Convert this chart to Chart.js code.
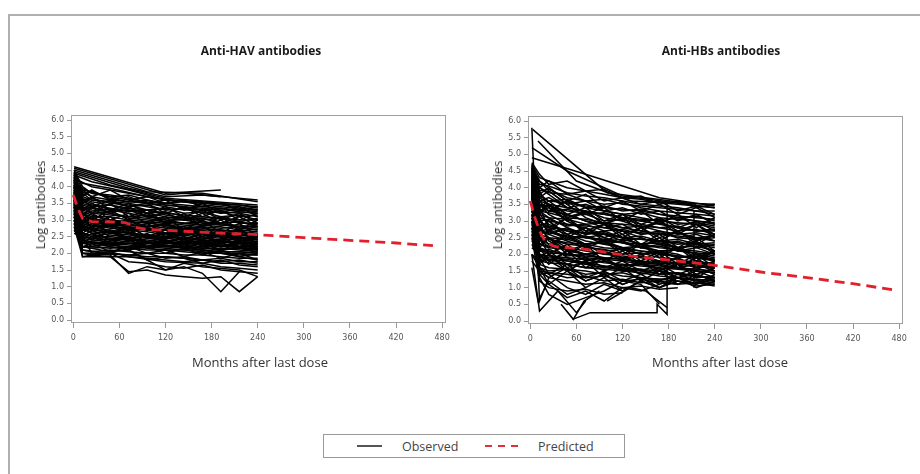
<!DOCTYPE html>
<html>
<head>
<meta charset="utf-8">
<script src="https://cdn.jsdelivr.net/npm/chart.js@4.4.1/dist/chart.umd.min.js"></script>
<style>
  html, body { margin: 0; padding: 0; background: #fff; }
  body { width: 920px; height: 474px; position: relative; overflow: hidden; font-family: 'Open Sans', sans-serif; }
  .frame-top { position: absolute; left: 8px; top: 14px; width: 912px; height: 2px; background: #b0b0b0; }
  .frame-left { position: absolute; left: 8px; top: 14px; width: 2px; height: 460px; background: #b0b0b0; }
  .panel { position: absolute; top: 0; width: 460px; height: 380px; }
  .txt { position: absolute; transform: translate(-50%, -50%); white-space: nowrap; color: #333; }
  .ptitle { font-weight: 700; font-size: 12px; color: #1a1a1a; }
  .atitle { font-size: 13px; color: #333; }
  .ytitle { transform: translate(-50%, -50%) rotate(-90deg); }
  .legend { position: absolute; left: 323px; top: 434px; width: 302px; height: 24px; box-sizing: border-box; border: 1px solid #999; }
  .legend .solid { position: absolute; left: 33px; top: 10px; width: 25px; height: 2px; background: #555; }
  .legend .dash { position: absolute; left: 161px; top: 10px; width: 34px; height: 2px;
    background: repeating-linear-gradient(90deg, #e0303a 0 7px, transparent 7px 13px); }
  .legend span.lab { position: absolute; top: 3px; font-size: 12.5px; color: #444; }
</style>
</head>
<body>
<div class="frame-top"></div>
<div class="frame-left"></div>

<div class="panel" style="left:0"><canvas id="havChart"></canvas></div>
<div class="panel" style="left:457px"><canvas id="hbsChart"></canvas></div>

<div class="txt ptitle" style="left:261px; top:50px">Anti-HAV antibodies</div>
<div class="txt ptitle" style="left:721px; top:50px">Anti-HBs antibodies</div>
<div class="txt atitle ytitle" style="left:40px; top:205px">Log antibodies</div>
<div class="txt atitle ytitle" style="left:497px; top:205px">Log antibodies</div>
<div class="txt atitle" style="left:260px; top:362px">Months after last dose</div>
<div class="txt atitle" style="left:720px; top:362px">Months after last dose</div>

<div class="legend">
  <div class="solid"></div><span class="lab" style="left:78px">Observed</span>
  <div class="dash"></div><span class="lab" style="left:214px">Predicted</span>
</div>

<script>
// ── DATA ────────────────────────────────────────────────────────────
const xTicks = [0, 60, 120, 180, 240, 300, 360, 420, 480];
const yTicks = [0, 0.5, 1, 1.5, 2, 2.5, 3, 3.5, 4, 4.5, 5, 5.5, 6];

// Anti-HAV: visit months shared by every subject row (null = no visit)
const havMonths = [1, 12, 24, 48, 72, 96, 120, 144, 168, 192, 216, 240];
const n = null;
const havSubjects = [
  [4.6, n, n, n, n, n, 3.8, n, n, 3.9, n, n],
  [4.55, n, n, n, n, n, 3.75, 3.8, n, n, n, 3.6],
  [4.5, n, n, n, n, 3.85, n, n, 3.8, n, n, 3.55],
  [4.45, n, n, n, 3.95, n, 3.7, n, 3.75, 3.7, n, n],
  [4.4, n, n, 4.05, n, n, 3.65, n, n, n, n, 3.45],
  [4.35, n, 4.15, n, 3.9, n, 3.6, n, 3.55, n, n, 3.4],
  [4.3, 4.1, n, 3.95, n, 3.7, n, 3.55, n, n, 3.45, 3.35],
  [4.25, n, 4.0, n, 3.8, n, 3.6, n, 3.5, n, 3.4, 3.3],
  [4.2, 3.9, 3.85, 3.7, 3.6, 3.5, 3.45, 3.4, 3.35, 3.3, 3.3, 3.25],
  [4.15, 3.7, 3.6, 3.55, 3.4, 3.45, 3.3, 3.35, 3.2, 3.25, 3.1, 3.15],
  [4.1, 3.6, 3.65, 3.5, 3.45, 3.3, 3.35, 3.2, 3.25, 3.1, 3.15, 3.0],
  [4.05, 3.5, 3.4, 3.45, 3.3, 3.2, 3.25, 3.1, 3.05, 3.1, 2.95, 3.05],
  [4.0, 3.4, 3.3, 3.25, 3.3, 3.1, 3.05, 3.1, 2.95, 2.9, 2.95, 2.85],
  [3.95, 3.3, 3.2, 3.15, 3.1, 3.05, 2.95, 2.9, 2.95, 2.85, 2.8, 2.8],
  [3.9, 3.2, 3.1, 3.1, 3.0, 2.95, 2.9, 2.85, 2.8, 2.75, 2.8, 2.7],
  [3.85, 3.1, 3.0, 2.95, 2.9, 2.95, 2.8, 2.75, 2.7, 2.7, 2.65, 2.6],
  [3.8, 3.0, 2.9, 2.85, 2.8, 2.75, 2.7, 2.7, 2.6, 2.65, 2.55, 2.55],
  [3.75, 2.9, 2.8, 2.8, 2.75, 2.7, 2.6, 2.55, 2.6, 2.5, 2.5, 2.45],
  [3.7, 2.8, 2.75, 2.7, 2.6, 2.55, 2.5, 2.55, 2.45, 2.4, 2.45, 2.35],
  [3.65, 2.7, 2.65, 2.6, 2.55, 2.5, 2.45, 2.4, 2.35, 2.4, 2.3, 2.3],
  [3.6, 2.6, 2.5, 2.5, 2.45, 2.4, 2.35, 2.3, 2.3, 2.25, 2.25, 2.2],
  [3.55, 2.5, 2.45, 2.4, 2.35, 2.3, 2.3, 2.25, 2.2, 2.25, 2.15, 2.15],
  [3.5, 2.4, 2.35, 2.3, 2.3, 2.25, 2.2, 2.2, 2.15, 2.1, 2.15, 2.1],
  [3.45, 2.3, 2.25, 2.25, 2.2, 2.2, 2.15, 2.1, 2.1, 2.05, 2.05, 2.0],
  [3.4, 2.2, 2.15, 2.2, 2.15, 2.1, 2.1, 2.05, 2.0, 2.0, 1.95, 1.95],
  [4.4, 3.6, 3.5, 3.3, 3.35, 3.2, 3.1, 3.0, 3.05, 2.9, 2.95, 2.8],
  [4.35, 3.3, 3.4, 3.2, 3.1, 3.15, 3.0, 2.9, 2.85, 2.9, 2.75, 2.7],
  [4.3, 3.8, 3.6, 3.55, 3.5, 3.4, 3.3, 3.35, 3.3, 3.2, 3.25, 3.2],
  [4.25, 3.0, 2.95, 2.9, 2.85, 2.8, 2.85, 2.7, 2.65, 2.6, 2.6, 2.5],
  [4.2, 2.7, 2.75, 2.6, 2.65, 2.5, 2.45, 2.5, 2.4, 2.35, 2.3, 2.35],
  [4.15, 3.95, 3.8, 3.75, 3.65, 3.55, 3.5, 3.45, 3.4, 3.35, 3.3, 3.3],
  [4.1, 3.85, 3.7, 3.6, 3.55, 3.5, 3.4, 3.3, 3.3, 3.25, 3.2, 3.1],
  [4.05, 2.9, 2.8, 2.85, 2.7, 2.75, 2.6, 2.65, 2.55, 2.5, 2.45, 2.45],
  [4.0, 3.65, 3.55, 3.45, 3.35, 3.3, 3.2, 3.15, 3.1, 3.05, 3.0, 3.0],
  [3.95, 3.55, 3.45, 3.35, 3.25, 3.3, 3.15, 3.05, 3.0, 3.05, 2.9, 2.9],
  [3.9, 3.45, 3.35, 3.3, 3.2, 3.1, 3.0, 3.0, 2.9, 2.85, 2.85, 2.75],
  [3.85, 3.35, 3.25, 3.2, 3.05, 3.0, 2.95, 2.9, 2.85, 2.8, 2.7, 2.65],
  [3.8, 3.25, 3.15, 3.0, 2.95, 2.9, 2.85, 2.8, 2.75, 2.7, 2.65, 2.55],
  [3.75, 3.15, 3.05, 2.95, 2.85, 2.85, 2.75, 2.7, 2.65, 2.55, 2.55, 2.5],
  [3.7, 3.05, 2.95, 2.9, 2.8, 2.7, 2.7, 2.6, 2.6, 2.5, 2.45, 2.4],
  [3.65, 2.95, 2.85, 2.75, 2.7, 2.65, 2.55, 2.6, 2.5, 2.45, 2.4, 2.35],
  [3.6, 2.85, 2.7, 2.65, 2.6, 2.55, 2.5, 2.45, 2.4, 2.35, 2.35, 2.25],
  [3.5, 2.75, 2.6, 2.55, 2.5, 2.45, 2.4, 2.35, 2.35, 2.3, 2.2, 2.2],
  [3.4, 2.6, 2.55, 2.45, 2.4, 2.35, 2.3, 2.3, 2.25, 2.2, 2.2, 2.1],
  [3.3, 2.45, 2.4, 2.35, 2.3, 2.3, 2.25, 2.2, 2.15, 2.15, 2.1, 2.05],
  [3.2, 2.35, 2.3, 2.3, 2.25, 2.2, 2.2, 2.15, 2.1, 2.05, 2.05, 2.0],
  [3.1, 2.2, 2.2, 2.15, 2.2, 2.15, 2.1, 2.1, 2.05, 2.0, 2.0, 1.95],
  [3.0, 2.1, 2.05, 2.1, 2.05, 2.0, 2.0, 1.95, 1.95, 1.9, 1.85, 1.85],
  [2.9, 2.0, 1.95, 2.0, 1.95, 1.9, 1.9, 1.85, 1.8, 1.85, 1.75, 1.75],
  [2.8, 1.9, 1.95, 1.9, 1.9, 1.85, 1.8, 1.75, 1.8, 1.7, 1.7, 1.65],
  [2.7, 2.3, 2.35, 2.25, 2.3, 2.2, 2.25, 2.15, 2.2, 2.1, 2.15, 2.05],
  [2.6, 2.5, 2.45, 2.4, 2.45, 2.35, 2.3, 2.35, 2.25, 2.3, 2.2, 2.25],
  [4.0, 3.2, 3.0, 2.8, 2.6, 2.5, 2.4, 2.2, 2.1, 2.0, 1.9, 1.8],
  [3.4, 2.0, n, 1.95, 1.4, 1.6, 1.5, 1.7, 1.6, n, 1.5, 1.3],
  [3.2, 1.9, n, 1.9, 1.45, 1.5, 1.35, 1.3, 1.25, 1.3, 0.85, 1.3],
  [3.0, n, 2.0, n, 2.1, 1.8, 1.5, 1.6, 1.4, 0.85, 1.45, n],
  [3.3, 2.1, n, 2.0, 1.75, 1.7, 1.6, 1.55, 1.65, 1.5, 1.45, 1.4],
  [3.5, 2.2, n, 2.05, 1.9, n, 1.75, n, 1.7, 1.6, 1.55, 1.5],
  [3.6, 2.4, n, 2.2, 2.1, 1.8, 1.9, 1.85, 1.7, 1.8, 1.65, 1.6],
  [3.1, 2.0, 2.0, n, 1.95, 2.0, 1.85, 1.9, 1.8, 1.75, 1.8, 1.7],
  [4.3, 3.5, 3.7, 3.3, 3.5, 3.2, 3.4, 3.1, 3.3, 3.0, 3.2, 2.9],
  [4.2, 3.4, 3.2, 3.5, 3.1, 3.3, 2.9, 3.2, 2.8, 3.1, 2.7, 3.0],
  [4.1, 3.1, 3.4, 3.0, 3.2, 2.9, 3.1, 2.7, 3.0, 2.6, 2.9, 2.5],
  [4.0, 3.0, 2.8, 3.1, 2.7, 2.9, 2.6, 2.8, 2.5, 2.7, 2.4, 2.6],
  [3.9, 2.8, 3.0, 2.6, 2.8, 2.5, 2.7, 2.4, 2.6, 2.3, 2.5, 2.2],
  [3.8, 2.6, 2.4, 2.7, 2.4, 2.6, 2.3, 2.5, 2.2, 2.4, 2.2, 2.3],
  [3.7, 2.4, 2.6, 2.3, 2.5, 2.2, 2.4, 2.2, 2.3, 2.1, 2.3, 2.1],
  [4.45, 3.9, 3.7, 3.9, 3.6, 3.7, 3.5, 3.6, 3.4, 3.5, 3.3, 3.4],
  [4.35, 3.7, 3.9, 3.6, 3.7, 3.5, 3.6, 3.3, 3.5, 3.2, 3.4, 3.1],
  [4.25, 3.6, 3.4, 3.6, 3.4, 3.5, 3.2, 3.4, 3.1, 3.3, 3.0, 3.2],
  [4.15, 3.3, 3.5, 3.2, 3.4, 3.1, 3.2, 3.0, 3.2, 2.9, 3.1, 2.8],
  [4.05, 3.2, 3.0, 3.3, 3.0, 3.2, 2.9, 3.1, 2.8, 3.0, 2.7, 2.9],
  [3.95, 2.9, 3.1, 2.8, 3.0, 2.7, 2.9, 2.6, 2.8, 2.5, 2.7, 2.4],
  [3.85, 2.7, 2.9, 2.6, 2.8, 2.5, 2.6, 2.4, 2.6, 2.3, 2.5, 2.3],
  [3.75, 2.5, 2.7, 2.4, 2.6, 2.35, 2.5, 2.3, 2.4, 2.2, 2.35, 2.15],
  [3.65, 2.3, 2.5, 2.25, 2.4, 2.2, 2.35, 2.15, 2.3, 2.1, 2.2, 2.1],
  [3.55, 3.2, 3.0, 2.8, 2.9, 2.7, 2.8, 2.6, 2.7, 2.5, 2.6, 2.4],
  [3.45, 3.0, 3.2, 2.9, 3.0, 2.8, 2.9, 2.7, 2.8, 2.6, 2.7, 2.5],
  [3.35, 2.8, 2.7, 2.9, 2.6, 2.8, 2.5, 2.7, 2.4, 2.6, 2.35, 2.5],
  [3.25, 2.6, 2.8, 2.5, 2.7, 2.45, 2.6, 2.35, 2.5, 2.3, 2.4, 2.25],
  [4.5, 4.0, 3.8, 3.7, 3.75, 3.6, 3.5, 3.55, 3.45, 3.4, 3.35, 3.3],
  [4.4, 3.75, 3.85, 3.65, 3.55, 3.6, 3.45, 3.4, 3.3, 3.35, 3.25, 3.2],
  [2.9, 2.4, 2.2, 2.3, 2.1, 2.2, 2.0, 2.15, 1.95, 2.1, 1.9, 2.0],
  [3.0, 2.2, 2.3, 2.05, 2.2, 2.0, 2.1, 1.9, 2.05, 1.85, 2.0, 1.8],
  [3.3, 2.8, 2.6, 2.4, 2.5, 2.3, 2.4, 2.25, 2.35, 2.2, 2.3, 2.15]
];
const havPredMonths = [0, 6, 12, 24, 48, 68, 84, 96, 120, 180, 240, 300, 360, 420, 468];
const havPredValues = [3.75, 3.35, 3.05, 2.95, 2.94, 2.92, 2.76, 2.72, 2.69, 2.62, 2.56, 2.47, 2.39, 2.31, 2.23];

// Anti-HBs
const hbsMonths = [2, 12, 24, 48, 72, 96, 120, 144, 168, 192, 216, 240];
const hbsSubjects = [
  [4.7, 4.3, 4.2, 4.0, 3.9, 3.8, 3.7, 3.65, 3.55, 3.5, 3.45, 3.4],
  [4.6, 4.1, 4.05, 3.85, 3.75, 3.7, 3.6, 3.5, 3.45, 3.4, 3.3, 3.3],
  [4.55, 3.9, 3.95, 3.7, 3.6, 3.5, 3.55, 3.4, 3.3, 3.25, 3.2, 3.15],
  [4.5, 3.8, 3.6, 3.65, 3.4, 3.45, 3.3, 3.35, 3.2, 3.1, 3.15, 3.0],
  [4.45, 3.6, 3.7, 3.4, 3.5, 3.3, 3.2, 3.25, 3.1, 3.05, 3.0, 2.95],
  [4.4, 3.5, 3.3, 3.35, 3.2, 3.25, 3.1, 3.0, 3.05, 2.9, 2.95, 2.85],
  [4.35, 3.3, 3.4, 3.15, 3.2, 3.0, 3.05, 2.9, 2.8, 2.85, 2.7, 2.75],
  [4.3, 3.2, 3.1, 3.05, 2.9, 2.95, 2.8, 2.85, 2.7, 2.6, 2.65, 2.55],
  [4.25, 3.0, 3.05, 2.85, 2.9, 2.7, 2.75, 2.6, 2.65, 2.5, 2.45, 2.5],
  [4.2, 2.9, 2.8, 2.75, 2.6, 2.65, 2.5, 2.55, 2.4, 2.45, 2.3, 2.35],
  [4.15, 2.7, 2.75, 2.5, 2.55, 2.4, 2.45, 2.3, 2.35, 2.2, 2.25, 2.1],
  [4.1, 2.6, 2.5, 2.45, 2.3, 2.35, 2.2, 2.25, 2.1, 2.15, 2.0, 2.05],
  [4.05, 2.4, 2.45, 2.3, 2.25, 2.1, 2.15, 2.0, 2.05, 1.9, 1.95, 1.85],
  [4.0, 2.3, 2.2, 2.15, 2.0, 2.05, 1.9, 1.95, 1.8, 1.85, 1.7, 1.75],
  [3.95, 2.1, 2.15, 1.95, 2.0, 1.85, 1.9, 1.75, 1.7, 1.75, 1.6, 1.65],
  [3.9, 2.0, 1.9, 1.85, 1.75, 1.8, 1.65, 1.7, 1.55, 1.6, 1.5, 1.45],
  [3.85, 1.8, 1.85, 1.7, 1.6, 1.65, 1.5, 1.55, 1.4, 1.45, 1.35, 1.3],
  [3.8, 1.6, 1.5, 1.55, 1.4, 1.45, 1.35, 1.3, 1.25, 1.3, 1.2, 1.15],
  [3.75, 1.4, 1.45, 1.3, 1.35, 1.2, 1.25, 1.15, 1.2, 1.1, 1.15, 1.05],
  [3.7, 4.0, 3.85, 3.8, 3.6, 3.65, 3.5, 3.45, 3.4, 3.35, 3.3, 3.2],
  [3.65, 3.75, 3.6, 3.55, 3.45, 3.4, 3.35, 3.3, 3.2, 3.15, 3.1, 3.05],
  [3.6, 3.5, 3.45, 3.3, 3.25, 3.2, 3.1, 3.05, 3.0, 2.95, 2.9, 2.8],
  [3.5, 3.3, 3.25, 3.1, 3.05, 2.95, 2.9, 2.85, 2.8, 2.7, 2.75, 2.6],
  [3.4, 3.1, 3.0, 2.9, 2.85, 2.8, 2.7, 2.65, 2.6, 2.55, 2.5, 2.4],
  [3.3, 2.9, 2.85, 2.7, 2.65, 2.6, 2.5, 2.45, 2.4, 2.35, 2.3, 2.2],
  [3.2, 2.7, 2.65, 2.55, 2.5, 2.4, 2.35, 2.3, 2.2, 2.15, 2.1, 2.0],
  [3.1, 2.5, 2.45, 2.35, 2.3, 2.2, 2.15, 2.1, 2.0, 1.95, 1.9, 1.8],
  [3.0, 2.3, 2.25, 2.2, 2.1, 2.0, 1.95, 1.9, 1.8, 1.75, 1.7, 1.6],
  [2.9, 2.1, 2.05, 2.0, 1.9, 1.85, 1.8, 1.7, 1.65, 1.6, 1.5, 1.45],
  [2.8, 1.9, 1.85, 1.8, 1.75, 1.65, 1.6, 1.55, 1.5, 1.4, 1.35, 1.3],
  [2.7, 1.7, 1.6, 1.55, 1.5, 1.4, 1.45, 1.3, 1.25, 1.2, 1.15, 1.1],
  [2.6, 1.5, 1.3, 1.2, 1.1, 1.15, 1.0, 1.05, 0.95, 1.0, n, n],
  [2.5, 1.2, 1.0, 0.9, 0.95, 0.8, 0.85, n, n, n, n, n],
  [2.4, 2.2, 2.1, 2.0, 1.95, 1.9, 1.85, 1.8, 1.75, 1.7, 1.65, 1.6],
  [2.2, 2.0, 1.95, 1.9, 1.85, 1.75, 1.7, 1.65, 1.6, 1.55, 1.5, 1.45],
  [2.0, 1.8, 1.75, 1.7, 1.6, 1.55, 1.5, 1.45, 1.35, 1.3, 1.25, 1.2],
  [1.8, 1.5, 1.45, 1.4, 1.3, 1.35, 1.2, 1.25, 1.15, 1.1, n, n],
  [4.65, 4.2, 3.9, 3.5, 3.1, 2.9, 2.7, 2.5, 2.3, 2.2, 2.0, 1.9],
  [4.6, 3.4, 2.8, 2.6, 2.4, 2.3, 2.2, 2.1, 2.05, 1.95, 1.9, 1.85],
  [4.5, 3.9, 3.4, 3.0, 2.7, 2.5, 2.35, 2.2, 2.1, 2.0, 1.8, 1.7],
  [4.4, 2.5, 2.0, 1.8, 1.7, 1.6, 1.55, 1.5, 1.4, 1.45, 1.3, 1.35],
  [4.3, 3.7, 3.5, 3.4, 3.3, 3.2, 3.1, 3.0, 2.9, 2.8, 2.7, 2.7],
  [4.2, 3.6, 3.3, 3.2, 3.0, 2.8, 2.9, 2.6, 2.7, 2.5, 2.6, 2.4],
  [4.1, 3.3, 3.1, 2.8, 2.6, 2.7, 2.5, 2.3, 2.4, 2.2, 2.3, 2.1],
  [4.0, 3.0, 2.7, 2.5, 2.3, 2.4, 2.2, 2.0, 2.1, 1.9, 2.0, 1.8],
  [3.9, 2.8, 2.5, 2.2, 2.0, 2.1, 1.9, 1.7, 1.8, 1.6, 1.7, 1.5],
  [3.8, 2.6, 2.3, 1.9, 1.7, 1.8, 1.6, 1.4, 1.5, 1.3, 1.4, 1.2],
  [3.6, 2.2, 1.8, 1.5, 1.2, 1.4, 1.1, 1.3, 1.0, 1.2, 1.05, 1.1],
  [3.4, 1.9, 1.4, 1.0, 0.8, 1.1, 0.9, 1.2, 1.0, 1.3, 1.1, 1.25],
  [3.2, 1.6, 1.1, 0.7, 0.9, 0.6, 1.0, 0.9, 1.1, n, n, n],
  [3.0, 1.3, 0.8, 0.5, 0.7, 0.9, 1.2, 1.1, 0.5, n, n, n],
  [4.55, 4.2, 4.0, 3.6, 3.4, 3.3, 3.2, 3.1, 3.0, 3.1, 3.0, 2.9],
  [4.45, 4.0, 3.8, 3.4, 3.3, 3.1, 3.0, 2.8, 2.95, 2.8, 2.7, 2.75],
  [4.35, 3.6, 3.5, 3.2, 3.0, 2.9, 2.8, 2.7, 2.6, 2.65, 2.5, 2.55],
  [4.25, 3.5, 3.2, 2.9, 2.8, 2.6, 2.5, 2.45, 2.4, 2.3, 2.35, 2.25],
  [4.15, 3.2, 2.9, 2.7, 2.5, 2.45, 2.35, 2.2, 2.25, 2.1, 2.05, 1.95],
  [4.05, 3.1, 2.6, 2.4, 2.2, 2.15, 2.0, 2.05, 1.9, 1.85, 1.75, 1.7],
  [3.95, 2.9, 2.4, 2.1, 2.0, 1.9, 1.85, 1.75, 1.7, 1.6, 1.55, 1.5],
  [3.5, 2.7, 2.6, 2.8, 2.5, 2.6, 2.4, 2.5, 2.3, 2.4, 2.2, 2.3],
  [3.3, 2.6, 2.7, 2.45, 2.55, 2.3, 2.4, 2.2, 2.3, 2.1, 2.2, 2.0],
  [4.6, 3.8, 4.0, 3.6, 3.8, 3.4, 3.6, 3.3, 3.5, 3.2, 3.4, 3.1],
  [4.5, 3.5, 3.3, 3.6, 3.2, 3.4, 3.0, 3.3, 2.9, 3.2, 2.8, 3.1],
  [4.4, 3.2, 3.5, 3.0, 3.3, 2.9, 3.1, 2.7, 3.0, 2.6, 2.9, 2.5],
  [4.3, 3.0, 2.7, 3.1, 2.6, 2.9, 2.5, 2.8, 2.4, 2.7, 2.3, 2.6],
  [4.2, 2.7, 3.0, 2.5, 2.8, 2.4, 2.6, 2.2, 2.5, 2.1, 2.4, 2.0],
  [4.1, 2.5, 2.2, 2.6, 2.2, 2.4, 2.0, 2.3, 1.9, 2.2, 1.8, 2.1],
  [4.0, 2.2, 2.5, 2.0, 2.3, 1.8, 2.1, 1.7, 2.0, 1.6, 1.9, 1.5],
  [3.9, 2.0, 1.7, 2.1, 1.6, 1.9, 1.5, 1.8, 1.4, 1.7, 1.3, 1.6],
  [3.8, 1.7, 2.0, 1.5, 1.8, 1.3, 1.6, 1.2, 1.5, 1.1, 1.4, 1.2],
  [3.7, 1.4, 1.1, 1.5, 1.0, 1.3, 0.9, 1.2, 1.0, 1.3, 1.1, 1.4],
  [3.6, 3.3, 3.5, 3.1, 3.3, 2.9, 3.2, 2.8, 3.0, 2.7, 2.9, 2.6],
  [3.5, 3.0, 2.8, 3.1, 2.7, 2.9, 2.6, 2.8, 2.5, 2.7, 2.4, 2.6],
  [3.4, 2.8, 3.0, 2.6, 2.8, 2.5, 2.7, 2.3, 2.6, 2.2, 2.5, 2.1],
  [3.3, 2.5, 2.3, 2.6, 2.3, 2.4, 2.1, 2.3, 2.0, 2.2, 1.9, 2.1],
  [3.2, 2.3, 2.5, 2.1, 2.3, 2.0, 2.2, 1.8, 2.1, 1.7, 2.0, 1.6],
  [3.1, 2.0, 1.8, 2.1, 1.8, 1.9, 1.6, 1.8, 1.5, 1.7, 1.4, 1.6],
  [3.0, 1.8, 2.0, 1.6, 1.8, 1.5, 1.7, 1.4, 1.6, 1.3, 1.5, 1.3],
  [2.8, 1.5, 1.3, 1.6, 1.2, 1.4, 1.1, 1.3, 1.2, 1.4, 1.2, 1.3],
  [4.75, 4.4, 4.1, 4.2, 3.9, 3.95, 3.7, 3.75, 3.5, 3.6, 3.4, 3.5],
  [4.7, 4.0, 4.2, 3.8, 3.9, 3.6, 3.7, 3.5, 3.6, 3.3, 3.45, 3.2],
  [4.65, 3.7, 3.9, 3.5, 3.6, 3.3, 3.4, 3.2, 3.3, 3.0, 3.2, 2.9],
  [4.55, 3.4, 3.6, 3.2, 3.4, 3.0, 3.2, 2.9, 3.1, 2.8, 3.0, 2.7],
  [2.6, 2.2, 2.0, 2.3, 1.9, 2.1, 1.8, 2.0, 1.7, 1.9, 1.6, 1.8],
  [2.3, 1.9, 2.1, 1.7, 1.9, 1.6, 1.8, 1.5, 1.7, 1.4, 1.6, 1.4],
  [2.0, 1.6, 1.4, 1.7, 1.3, 1.5, 1.2, 1.4, 1.1, 1.3, 1.0, 1.2]
];
// subjects with off-schedule visits, as [month, value, month, value, ...]
const hbsIrregular = [
  [2, 5.8, 12, 0.6, 24, 1.3],
  [3, 5.75, 100, 3.85, 150, 3.7, 216, 3.5],
  [10, 5.4, 60, 4.2, 130, 3.6, 240, 3.5],
  [2, 5.2, 48, 4.5, 120, 3.75, 240, 3.4],
  [2, 4.9, 72, 4.4, 168, 3.7, 240, 3.45],
  [55, 0.05, 78, 0.25, 165, 0.25, 165, 0.5, 178, 0.2, 178, 3.55],
  [2, 2.0, 12, 0.3, 36, 0.9, 60, 0.25, 72, 0.6],
  [2, 1.6, 10, 0.6, 24, 1.2, 48, 0.8, 72, 1.0],
  [213, 1.0, 213, 3.3],
  [100, 0.6, 130, 1.0, 150, 0.9, 178, 0.4],
  [40, 0.5, 56, 0.05, 70, 0.6, 90, 0.9]
];
const hbsPredMonths = [0, 6, 12, 18, 24, 30, 36, 48, 72, 96, 120, 150, 180, 210, 240, 300, 360, 420, 476];
const hbsPredValues = [3.6, 3.1, 2.7, 2.45, 2.32, 2.25, 2.22, 2.2, 2.15, 2.07, 1.98, 1.9, 1.83, 1.75, 1.67, 1.47, 1.3, 1.12, 0.92];

// ── BUILD ───────────────────────────────────────────────────────────
function rowPoints(months, row) {
  const pts = [];
  row.forEach((v, i) => { if (v !== null) pts.push({ x: months[i], y: v }); });
  return pts;
}

function pairPoints(flat) {
  const pts = [];
  for (let i = 0; i < flat.length; i += 2) pts.push({ x: flat[i], y: flat[i + 1] });
  return pts;
}

const frameBox = {
  id: 'frameBox',
  afterDatasetsDraw(chart) {
    const { ctx, chartArea: a } = chart;
    ctx.save();
    ctx.strokeStyle = '#a0a0a0';
    ctx.lineWidth = 1;
    ctx.strokeRect(a.left + 0.5, a.top + 0.5, a.right - a.left - 1, a.bottom - a.top - 1);
    ctx.restore();
  }
};

function renderPanel(canvasId, months, rows, irregular, predX, predY, top) {
  const observed = rows.map(r => rowPoints(months, r)).concat(irregular.map(pairPoints));
  const datasets = [{
    data: predX.map((m, i) => ({ x: m, y: predY[i] })),
    borderColor: '#e0202c',
    borderWidth: 2.8,
    borderDash: [10, 6],
    pointRadius: 0,
    order: 0
  }];
  observed.forEach(pts => datasets.push({
    data: pts,
    borderColor: '#000',
    borderWidth: 1.5,
    pointRadius: 0,
    order: 1
  }));

  const tickFont = { family: "'DejaVu Sans', sans-serif", size: 8 };
  new Chart(document.getElementById(canvasId), {
    type: 'line',
    data: { datasets },
    options: {
      responsive: true,
      maintainAspectRatio: false,
      animation: false,
      events: [],
      layout: { padding: { top: top, right: 14, left: 0, bottom: 0 } },
      plugins: { legend: { display: false }, tooltip: { enabled: false } },
      scales: {
        x: {
          type: 'linear', min: -3, max: 485,
          afterBuildTicks: s => { s.ticks = xTicks.map(v => ({ value: v })); },
          afterFit: s => { s.height = 380 - top - 208; },
          grid: { drawOnChartArea: false, drawTicks: true, tickLength: 5, color: '#999' },
          border: { display: false },
          ticks: { color: '#555', font: tickFont, padding: 5, maxRotation: 0 }
        },
        y: {
          type: 'linear', min: -0.09, max: 6.15,
          afterBuildTicks: s => { s.ticks = yTicks.map(v => ({ value: v })); },
          afterFit: s => { s.width = 71; },
          grid: { drawOnChartArea: false, drawTicks: true, tickLength: 4, color: '#999' },
          border: { display: false },
          ticks: { color: '#555', font: tickFont, padding: 3, callback: v => v.toFixed(1) }
        }
      }
    },
    plugins: [frameBox]
  });
}

renderPanel('havChart', havMonths, havSubjects, [], havPredMonths, havPredValues, 115);
renderPanel('hbsChart', hbsMonths, hbsSubjects, hbsIrregular, hbsPredMonths, hbsPredValues, 116);
</script>
</body>
</html>
